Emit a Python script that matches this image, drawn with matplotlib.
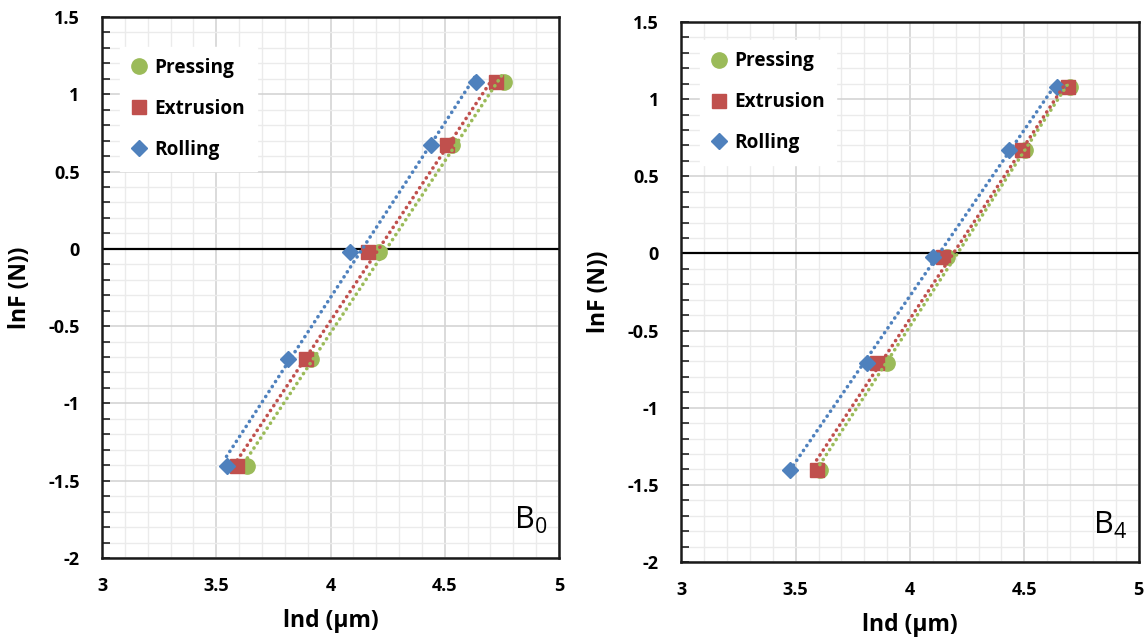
import numpy as np
import matplotlib
matplotlib.use("Agg")
import matplotlib.pyplot as plt
import matplotlib.ticker as mticker

plt.rcParams.update({
    "font.family": ["Open Sans", "DejaVu Sans"],
    "mathtext.fontset": "custom",
    "mathtext.rm": "Open Sans",
    "axes.edgecolor": "#1a1a1a",
})

# ln of loads 0.245, 0.49, 0.98, 1.96, 2.94 N
ln_f = [-1.406, -0.713, -0.020, 0.673, 1.078]

# ln of indentation diagonal (um)
b0_pressing = [3.636, 3.913, 4.211, 4.532, 4.758]
b0_extrusion = [3.592, 3.891, 4.165, 4.510, 4.723]
b0_rolling = [3.545, 3.815, 4.087, 4.442, 4.637]

b4_pressing = [3.606, 3.898, 4.160, 4.503, 4.700]
b4_extrusion = [3.592, 3.854, 4.146, 4.488, 4.692]
b4_rolling = [3.475, 3.810, 4.099, 4.433, 4.641]

series_names = ["Pressing", "Extrusion", "Rolling"]
COLORS = {"Pressing": "#9BBB59", "Extrusion": "#C0504D", "Rolling": "#4F81BD"}
MARKERS = {"Pressing": ("o", 11), "Extrusion": ("s", 10), "Rolling": ("D", 8)}

panels = [
    ("B$_0$", [b0_pressing, b0_extrusion, b0_rolling],
     [0.0891, 0.1336, 0.3991, 0.8401], 0.945),
    ("B$_4$", [b4_pressing, b4_extrusion, b4_rolling],
     [0.5950, 0.1273, 0.3995, 0.8385], 0.967),
]

fig = plt.figure(figsize=(11.45, 6.44), dpi=100)

for tag, data, rect, leg_y in panels:
    ax = fig.add_axes(rect)
    for name, xs in zip(series_names, data):
        mk, ms = MARKERS[name]
        ax.plot(xs, ln_f, linestyle="none", marker=mk, markersize=ms,
                color=COLORS[name], label=name, zorder=3)
    # linear trendlines, drawn over the markers like Excel does
    for name, xs in zip(series_names, data):
        a, b = np.polyfit(xs, ln_f, 1)
        xx = np.array([min(xs), max(xs)])
        ax.plot(xx, a * xx + b, linestyle=(0, (0.05, 1.6)), linewidth=2.6,
                color=COLORS[name], zorder=4, dash_capstyle="round")

    ax.axhline(0, color="black", linewidth=1.6, zorder=2)
    ax.set_xlim(3, 5)
    ax.set_ylim(-2, 1.5)
    ax.xaxis.set_major_locator(mticker.MultipleLocator(0.5))
    ax.xaxis.set_minor_locator(mticker.MultipleLocator(0.1))
    ax.yaxis.set_major_locator(mticker.MultipleLocator(0.5))
    ax.yaxis.set_minor_locator(mticker.MultipleLocator(0.1))
    fmt = mticker.FuncFormatter(lambda v, _: f"{v:g}")
    ax.xaxis.set_major_formatter(fmt)
    ax.yaxis.set_major_formatter(fmt)
    ax.grid(which="major", color="#d4d4d4", linewidth=1.2, zorder=0)
    ax.grid(which="minor", color="#ebebeb", linewidth=1.0, zorder=0)
    ax.set_axisbelow(True)

    ax.tick_params(axis="x", which="both", length=0, pad=14, labelsize=13)
    ax.tick_params(axis="y", which="both", direction="in", length=6,
                   width=1.2, color="#222222", labelsize=13, pad=16)
    for lab in ax.get_xticklabels() + ax.get_yticklabels():
        lab.set_fontweight("bold")
    for sp in ax.spines.values():
        sp.set_linewidth(1.8)

    ax.set_xlabel("lnd (\u00b5m)", fontsize=16.5, fontweight="bold", labelpad=10)
    ax.set_ylabel("lnF (N))", fontsize=16.5, fontweight="bold", labelpad=12)

    ax.text(4.95, -1.76, tag, fontsize=22, ha="right", va="center", zorder=5)

    leg = ax.legend(loc="upper left", bbox_to_anchor=(0.04, leg_y), frameon=True,
                    fancybox=False, edgecolor="white", framealpha=1.0,
                    prop={"weight": "bold", "size": 13.7}, handlelength=0.8,
                    handletextpad=0.4, labelspacing=1.1, borderpad=0.6,
                    borderaxespad=0.0)
    leg.set_zorder(6)

fig.savefig("out.png", dpi=100)
